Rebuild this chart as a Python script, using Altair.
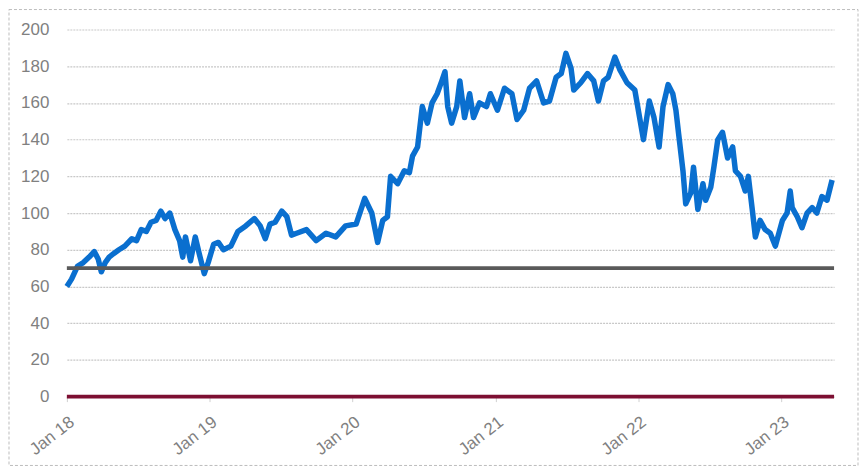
import altair as alt
import pandas as pd

dates = [
    "2018-01-01", "2018-01-13", "2018-01-28", "2018-02-12", "2018-02-27", "2018-03-12",
    "2018-03-22", "2018-03-30", "2018-04-09", "2018-04-19", "2018-05-01", "2018-05-14",
    "2018-05-29", "2018-06-16", "2018-06-28", "2018-07-10", "2018-07-23", "2018-08-04",
    "2018-08-17", "2018-08-29", "2018-09-09", "2018-09-21", "2018-10-04", "2018-10-16",
    "2018-10-24", "2018-10-31", "2018-11-13", "2018-11-25", "2018-12-05", "2018-12-18",
    "2018-12-28", "2019-01-11", "2019-01-23", "2019-02-05", "2019-02-24", "2019-03-14",
    "2019-04-03", "2019-04-25", "2019-05-10", "2019-05-23", "2019-06-04", "2019-06-17",
    "2019-07-04", "2019-07-17", "2019-07-29", "2019-08-11", "2019-09-05", "2019-09-30",
    "2019-10-25", "2019-11-19", "2019-12-14", "2020-01-10", "2020-02-01", "2020-02-19",
    "2020-03-05", "2020-03-18", "2020-03-30", "2020-04-07", "2020-04-25", "2020-05-12",
    "2020-05-25", "2020-06-02", "2020-06-15", "2020-06-27", "2020-07-10", "2020-07-22",
    "2020-08-04", "2020-08-16", "2020-08-24", "2020-08-31", "2020-09-10", "2020-09-23",
    "2020-10-01", "2020-10-13", "2020-10-26", "2020-11-05", "2020-11-20", "2020-12-08",
    "2020-12-18", "2021-01-05", "2021-01-23", "2021-02-11", "2021-02-24", "2021-03-13",
    "2021-03-28", "2021-04-15", "2021-05-03", "2021-05-18", "2021-06-04", "2021-06-17",
    "2021-06-29", "2021-07-12", "2021-07-19", "2021-08-06", "2021-08-23", "2021-09-08",
    "2021-09-20", "2021-10-03", "2021-10-15", "2021-11-01", "2021-11-14", "2021-12-02",
    "2021-12-22", "2022-01-13", "2022-01-28", "2022-02-09", "2022-02-22", "2022-03-04",
    "2022-03-17", "2022-03-29", "2022-04-06", "2022-04-13", "2022-04-24", "2022-05-01",
    "2022-05-14", "2022-05-21", "2022-06-01", "2022-06-14", "2022-06-21", "2022-07-04",
    "2022-07-12", "2022-07-22", "2022-08-03", "2022-08-16", "2022-08-29", "2022-09-05",
    "2022-09-18", "2022-09-30", "2022-10-08", "2022-10-18", "2022-10-26", "2022-11-07",
    "2022-11-20", "2022-12-03", "2022-12-16", "2023-01-03", "2023-01-15", "2023-01-23",
    "2023-01-28", "2023-02-10", "2023-02-22", "2023-03-07", "2023-03-20", "2023-04-01",
    "2023-04-14", "2023-04-27", "2023-05-10",
]
values = [
    60, 64, 71, 73, 76, 79,
    75, 68, 73, 76, 78, 80,
    82, 86, 85, 91, 90, 95,
    96, 101, 97, 100, 91, 85,
    76, 87, 74, 87, 78, 67,
    73, 83, 84, 80, 82, 90,
    93, 97, 93, 86, 94, 95,
    101, 98, 88, 89, 91, 85,
    89, 87, 93, 94, 108, 100,
    84, 96, 98, 120, 116, 123,
    122, 131, 136, 158, 149, 160,
    165, 172, 177, 158, 149, 158,
    172, 152, 165, 152, 160, 158,
    165, 156, 168, 165, 151, 156,
    168, 172, 160, 161, 174, 176,
    187, 179, 167, 171, 176, 172,
    161, 172, 174, 185, 178, 171,
    167, 140, 161, 152, 136, 158,
    170, 165, 156, 143, 123, 105,
    111, 125, 102, 116, 107, 114,
    125, 140, 144, 130, 136, 123,
    120, 112, 120, 102, 87, 96,
    91, 89, 82, 96, 100, 112,
    103, 98, 92, 100, 103, 100,
    109, 107, 118,
]

y_ticks = [0, 20, 40, 60, 80, 100, 120, 140, 160, 180, 200]
tick_dates = ["2018-01-01", "2019-01-01", "2020-01-01", "2021-01-01", "2022-01-01", "2023-01-01"]
ref_level = [70]
zero_level = [0]

df = pd.DataFrame({"date": pd.to_datetime(dates), "value": values})
df_ref = pd.DataFrame({"value": ref_level})
df_zero = pd.DataFrame({"value": zero_level})

W, H = 769, 368

x_scale = alt.Scale(domain=["2018-01-01", "2023-05-15"], nice=False)
y_scale = alt.Scale(domain=[0, 200], nice=False)

x_enc = alt.X(
    "date:T",
    scale=x_scale,
    axis=alt.Axis(
        values=[pd.Timestamp(d).isoformat() for d in tick_dates],
        labelExpr="'Jan ' + timeFormat(datum.value, '%y')",
        labelAngle=-38,
        labelAlign="right",
        labelBaseline="top",
        labelFontSize=17,
        labelColor="#808080",
        labelFont="Liberation Sans",
        labelPadding=12,
        labelFlush=False,
        labelOverlap=False,
        domain=False,
        ticks=True,
        tickColor="#d0d0d0",
        tickSize=5,
        grid=False,
        title=None,
    ),
)
y_axis = alt.Axis(
    values=y_ticks,
    labelFontSize=17,
    labelColor="#808080",
    labelFont="Liberation Sans",
    labelPadding=18,
    labelOverlap=False,
    labelFlush=False,
    domain=False,
    ticks=False,
    grid=True,
    gridColor="#c8c8c8",
    gridDash=[2, 1],
    gridWidth=1.2,
    title=None,
)
y_enc = alt.Y("value:Q", scale=y_scale, axis=y_axis)

line = alt.Chart(df).mark_line(color="#0a6fcf", strokeWidth=5.5, strokeJoin="round").encode(
    x=x_enc, y=y_enc
)

gray_rule = alt.Chart(df_ref).mark_rule(color="#5a5a5a", strokeWidth=4).encode(y=y_enc)
red_rule = alt.Chart(df_zero).mark_rule(color="#7d0f32", strokeWidth=4).encode(y=y_enc)

frame = alt.Chart().mark_rect(
    fill=None, stroke="#bdbdbd", strokeDash=[3, 2], strokeWidth=1, clip=False
).encode(
    x=alt.value(-58), x2=alt.value(W + 24), y=alt.value(-20), y2=alt.value(H + 69)
)

chart = (
    alt.layer(line, gray_rule, red_rule, frame)
    .properties(
        width=W,
        height=H,
        autosize=alt.AutoSizeParams(type="none"),
        padding={"left": 59, "top": 21, "right": 25, "bottom": 70},
    )
    .configure(background="white", view=alt.ViewConfig(stroke=None))
)

chart.save("out.html", embed_options={"renderer": "svg", "actions": False})
